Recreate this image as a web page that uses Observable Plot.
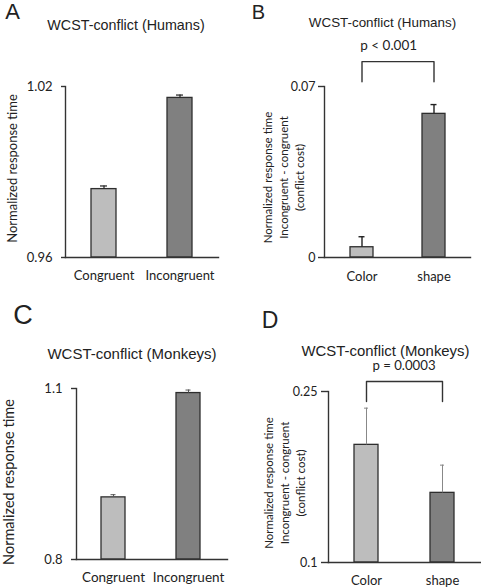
<!DOCTYPE html>
<html><head><meta charset="utf-8">
<script src="https://cdn.jsdelivr.net/npm/d3@7"></script>
<script src="https://cdn.jsdelivr.net/npm/@observablehq/plot@0.6"></script>
<style>
body{margin:0;background:#fff;}
#page{position:relative;width:481px;height:587px;overflow:hidden;background:#fff;color:#222;}
.panel{position:absolute;}
.lbl{position:absolute;white-space:pre;line-height:1;transform:translate(-50%,-50%);text-align:center;}
</style></head><body><div id="page"></div>
<script>
// ---- data ----
const rtCategories = ["Congruent", "Incongruent"];
const featureCategories = ["Color", "shape"];

const humanRt = [0.984, 1.016];
const humanRtErr = [0.0011, 0.001];
const humanRtTicks = [0.96, 1.02];
const humanRtTickLabels = ["0.96", "1.02"];

const humanCost = [0.0042, 0.0588];
const humanCostErr = [0.0043, 0.0038];
const humanCostTicks = [0, 0.07];
const humanCostTickLabels = ["0", "0.07"];
const humanBracket = [0.0719, 0.0802];
const humanP = "p < 0.001";

const monkeyRt = [0.909, 1.092];
const monkeyRtErr = [0.0047, 0.0053];
const monkeyRtTicks = [0.8, 1.1];
const monkeyRtTickLabels = ["0.8", "1.1"];

const monkeyCost = [0.2032, 0.1611];
const monkeyCostErr = [0.0322, 0.0243];
const monkeyCostTicks = [0.1, 0.25];
const monkeyCostTickLabels = ["0.1", "0.25"];
const monkeyBracket = [0.2412, 0.2588];
const monkeyP = "p = 0.0003";

const rtAxisTitle = "Normalized response time";
const costAxisTitle = "Normalized response time\nIncongruent - congruent\n(conflict cost)";

const barColors = ["#bdbdbd", "#808080"];

const page = document.getElementById("page");

function panel(c) {
  const data = c.cats.map((cat, i) => ({cat, v: c.values[i], e: c.errs[i]}));
  const base = c.ticks[0];
  const marks = [
    Plot.barY(data, {x: "cat", y1: () => base, y2: "v", fill: "cat", stroke: "#2e2e2e", strokeWidth: 1.3}),
    Plot.ruleX(data, {x: "cat", y1: "v", y2: d => d.v + d.e, stroke: c.errColor, strokeWidth: c.errWidth}),
    Plot.tickY(data, {x: "cat", y: d => d.v + d.e, stroke: c.errColor, strokeWidth: c.errWidth, insetLeft: c.capInset, insetRight: c.capInset}),
    Plot.frame({anchor: "left", stroke: "#333", strokeWidth: 1.4}),
    Plot.frame({anchor: "bottom", stroke: "#333", strokeWidth: 1.4}),
    Plot.axisY({ticks: c.ticks, tickFormat: d => c.tickLabels[c.ticks.indexOf(d)], tickSize: c.tickSize, tickPadding: c.tickPadding, fontSize: c.tickFont, label: null, stroke: "#333", strokeWidth: 1.4}),
    Plot.axisX({tickSize: 0, tickPadding: c.xPadding, fontSize: c.xFont, label: null}),
    Plot.text([c.yTitle], {text: d => d, frameAnchor: "left", rotate: -90, textAnchor: "middle", lineAnchor: "middle",
      fontSize: c.yTitleFont, lineHeight: c.yTitleLH || 1, dx: c.yTitleDx, dy: c.yTitleDy, fill: "#222"})
  ];
  if (c.bracket) {
    const [lo, hi] = c.bracket;
    const pts = [
      {x: c.cats[0], y: lo}, {x: c.cats[0], y: hi},
      {x: c.cats[1], y: hi}, {x: c.cats[1], y: lo}
    ];
    marks.push(Plot.line(pts, {x: "x", y: "y", stroke: "#333", strokeWidth: 1.4}));
  }
  const chart = Plot.plot({
    width: c.width, height: c.height,
    marginLeft: c.m[3], marginRight: c.m[1], marginTop: c.m[0], marginBottom: c.m[2],
    style: {fontFamily: "Lato", color: "#222", background: "transparent", overflow: "visible"},
    x: {type: "band", domain: c.cats, paddingInner: c.pi, paddingOuter: c.po, align: c.align ?? 0.5, label: null},
    y: {domain: [c.ticks[0], c.ticks[c.ticks.length - 1]], label: null},
    color: {domain: c.cats, range: barColors},
    marks
  });
  chart.classList.add("panel");
  chart.style.left = c.left + "px";
  chart.style.top = c.top + "px";
  page.appendChild(chart);
}

function label(text, x, y, font, size) {
  const d = document.createElement("div");
  d.className = "lbl";
  d.textContent = text;
  d.style.left = x + "px";
  d.style.top = y + "px";
  d.style.fontFamily = font;
  d.style.fontSize = size + "px";
  page.appendChild(d);
}

// Panel A
panel({left: 0, top: 0, width: 240, height: 290, m: [86, 22, 33, 65],
  cats: rtCategories, values: humanRt, errs: humanRtErr, ticks: humanRtTicks, tickLabels: humanRtTickLabels,
  pi: 0.675, po: 0.335, tickFont: 13, tickSize: 4, tickPadding: 9, xFont: 13, xPadding: 13,
  errColor: "#222", errWidth: 1.2, capInset: 9,
  yTitle: rtAxisTitle, yTitleFont: 13, yTitleDx: -53, yTitleDy: -3.5});
// Panel B
panel({left: 240, top: 0, width: 241, height: 290, m: [86, 11, 33, 84],
  cats: featureCategories, values: humanCost, errs: humanCostErr, ticks: humanCostTicks, tickLabels: humanCostTickLabels,
  pi: 0.684, po: 0.344, tickFont: 12.5, tickSize: 6, tickPadding: 3, xFont: 13, xPadding: 14,
  errColor: "#222", errWidth: 1.4, capInset: 8.5, bracket: humanBracket,
  yTitle: costAxisTitle, yTitleFont: 11.5, yTitleLH: 16 / 11.5, yTitleDx: -42, yTitleDy: 5.5});
// Panel C
panel({left: 0, top: 290, width: 240, height: 297, m: [98, 13, 28, 76],
  cats: rtCategories, values: monkeyRt, errs: monkeyRtErr, ticks: monkeyRtTicks, tickLabels: monkeyRtTickLabels,
  pi: 0.677, po: 0.341, align: 0.48, tickFont: 13, tickSize: 5, tickPadding: 9, xFont: 13.5, xPadding: 12.5,
  errColor: "#555", errWidth: 1, capInset: 9.5,
  yTitle: rtAxisTitle, yTitleFont: 14.5, yTitleDx: -67, yTitleDy: 8});
// Panel D
panel({left: 240, top: 290, width: 241, height: 297, m: [101, 0, 25, 88],
  cats: featureCategories, values: monkeyCost, errs: monkeyCostErr, ticks: monkeyCostTicks, tickLabels: monkeyCostTickLabels,
  pi: 0.68, po: 0.338, tickFont: 12.5, tickSize: 7, tickPadding: 4, xFont: 13, xPadding: 13,
  errColor: "#888", errWidth: 1, capInset: 10, bracket: monkeyBracket,
  yTitle: costAxisTitle, yTitleFont: 11.5, yTitleLH: 16 / 11.5, yTitleDx: -45, yTitleDy: 6});

// Panel letters, titles and p-values
label("A", 12.5, 11.5, "Liberation Sans", 22);
label("B", 258.5, 12, "Liberation Sans", 20);
label("C", 23, 315, "Liberation Sans", 27);
label("D", 270, 320, "Liberation Sans", 23);
label("WCST-conflict (Humans)", 126, 25, "Liberation Sans", 14.3);
label("WCST-conflict (Humans)", 382.5, 23, "Liberation Sans", 13.4);
label("WCST-conflict (Monkeys)", 132, 353, "Liberation Sans", 15);
label("WCST-conflict (Monkeys)", 385.5, 351, "Liberation Sans", 14.9);
label(humanP, 388.7, 46, "Lato", 13.5);
label(monkeyP, 404, 366, "Lato", 13.2);
</script></body></html>
